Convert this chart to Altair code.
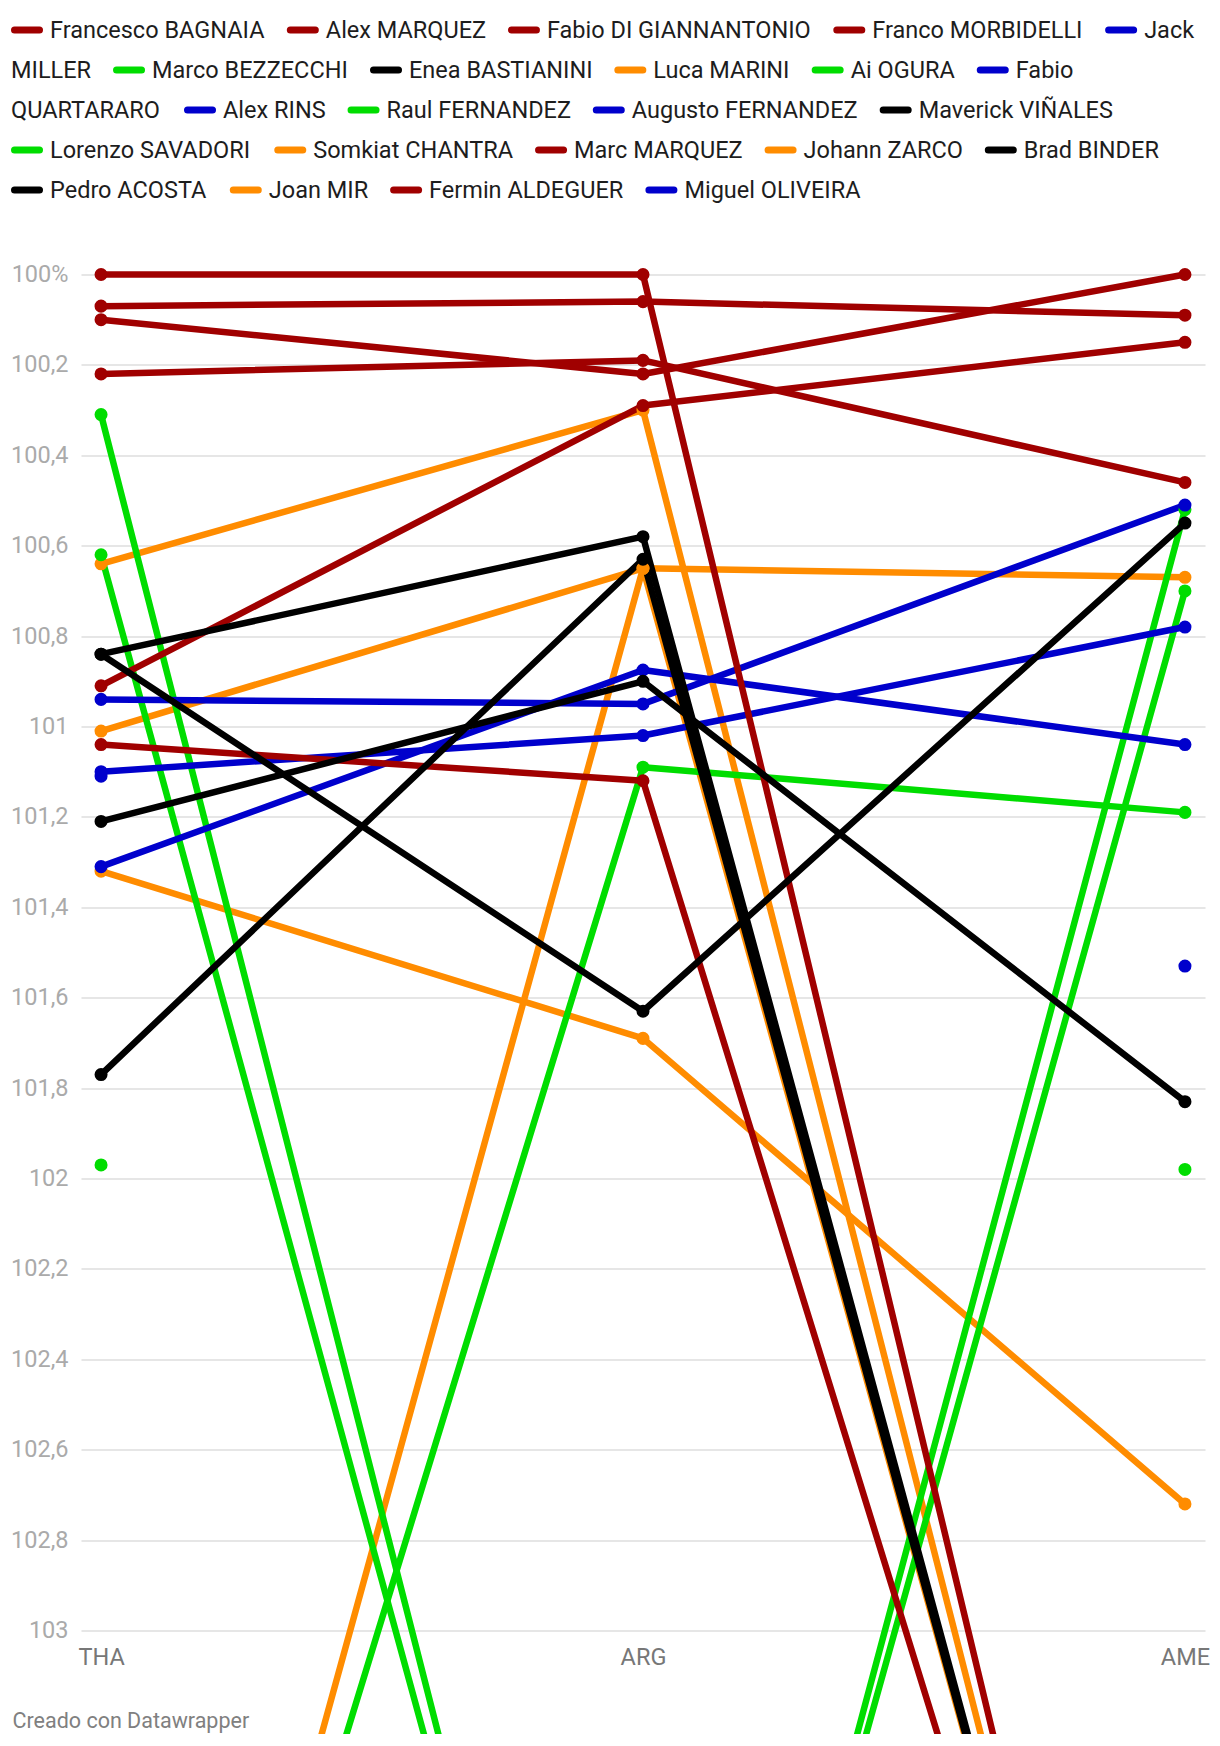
import altair as alt
import pandas as pd

# ---------------- data ----------------
RACES = ["THA", "ARG", "AME"]

RIDERS = [
    "Francesco BAGNAIA", "Alex MARQUEZ", "Fabio DI GIANNANTONIO", "Franco MORBIDELLI",
    "Jack MILLER", "Marco BEZZECCHI", "Enea BASTIANINI", "Luca MARINI", "Ai OGURA",
    "Fabio QUARTARARO", "Alex RINS", "Raul FERNANDEZ", "Augusto FERNANDEZ",
    "Maverick VIÑALES", "Lorenzo SAVADORI", "Somkiat CHANTRA", "Marc MARQUEZ",
    "Johann ZARCO", "Brad BINDER", "Pedro ACOSTA", "Joan MIR", "Fermin ALDEGUER",
    "Miguel OLIVEIRA",
]

TEAM = [
    "red", "red", "red", "red",
    "blue", "green", "black", "orange", "green",
    "blue", "blue", "green", "blue",
    "black", "green", "orange", "red",
    "orange", "black", "black", "orange", "red",
    "blue",
]

THA_VALUES = [100.10, 100.07, 100.91, 100.22, 101.10, 100.31, 101.77, 105.0, 100.62,
              100.94, 101.31, 105.0, None, 101.21, 101.97, 101.32, 100.00,
              100.64, 100.84, 100.84, 101.01, 101.04, 101.11]
ARG_VALUES = [100.22, 100.06, 100.29, 100.19, 101.02, 105.0, 100.63, 100.65, 105.0,
              100.95, 100.875, 101.09, None, 100.90, None, 101.69, 100.00,
              100.30, 101.63, 100.58, 100.65, 101.12, None]
AME_VALUES = [100.00, 100.09, 100.15, 100.46, 100.78, 100.52, 105.0, 105.0, 100.70,
              100.51, 101.04, 101.19, 101.53, 101.83, 101.98, 102.72, 105.0,
              105.0, 100.55, 105.0, 100.67, 105.0, None]

Y_TICKS = [100.0, 100.2, 100.4, 100.6, 100.8, 101.0, 101.2, 101.4, 101.6, 101.8,
           102.0, 102.2, 102.4, 102.6, 102.8, 103.0]

FOOTER = "Creado con Datawrapper"

# ---------------- styling ----------------
PALETTE = {"red": "#a00000", "blue": "#0000cc", "green": "#00dd00",
           "orange": "#ff8c00", "black": "#000000"}
DRAW_ORDER = {"orange": 0, "green": 1, "blue": 2, "red": 3, "black": 4}

PLOT_W, PLOT_H = 1124, 1356
PAD = {"left": 73, "top": 266.5, "right": 7, "bottom": 103}
ORIGIN_X = 8 + PAD["left"]   # page x of plot left edge
ORIGIN_Y = 8 + PAD["top"]    # page y of plot top edge

FONT = "Roboto"
LEG_FS = 23.5

# ---------------- long table ----------------
rows = []
for i, r in enumerate(RIDERS):
    seg = 0
    for j, vals in enumerate((THA_VALUES, ARG_VALUES, AME_VALUES)):
        v = vals[i]
        if v is None:
            seg += 1
            continue
        rows.append({"rider": r, "race": RACES[j], "idx": j, "value": v,
                     "seg": f"{r}-{seg}", "layer": DRAW_ORDER[TEAM[i]], "ri": i})
df = pd.DataFrame(rows).sort_values(["layer", "ri", "idx"]).reset_index(drop=True)

color_scale = alt.Scale(domain=RIDERS, range=[PALETTE[t] for t in TEAM])

# ---------------- flowing legend (Datawrapper-like) ----------------
EM = {
    " ": 0.248,
    "A": .652, "B": .623, "C": .651, "D": .656, "E": .568, "F": .553, "G": .681,
    "H": .713, "I": .272, "J": .552, "K": .627, "L": .538, "M": .873, "N": .713,
    "O": .688, "P": .631, "Q": .688, "R": .616, "S": .593, "T": .597, "U": .649,
    "V": .636, "W": .887, "X": .627, "Y": .601, "Z": .599, "Ñ": .713,
    "a": .544, "b": .561, "c": .523, "d": .564, "e": .530, "f": .347, "g": .561,
    "h": .551, "i": .243, "j": .239, "k": .507, "l": .243, "m": .876, "n": .552,
    "o": .570, "p": .561, "q": .568, "r": .338, "s": .515, "t": .327, "u": .551,
    "v": .484, "w": .751, "x": .496, "y": .473, "z": .496,
}


def tw(s):
    return sum(EM.get(ch, 0.56) for ch in s) * LEG_FS


LEFT, RIGHT = 11, 1208
SYM_W, SYM_GAP, ITEM_GAP, ROW0, ROW_H = 32, 7, 22, 30, 40
sym_rows, txt_rows = [], []
x, row = LEFT, 0
for name in RIDERS:
    words = name.split(" ")
    unit = SYM_W + SYM_GAP + tw(words[0])
    if x > LEFT and x + unit > RIGHT:
        row += 1
        x = LEFT
    sym_rows.append({"rider": name, "x1": x + 3.5 - ORIGIN_X,
                     "x2": x + SYM_W - 3.5 - ORIGIN_X,
                     "y": ROW0 + row * ROW_H - ORIGIN_Y})
    piece_x = x + SYM_W + SYM_GAP
    piece = words[0]
    cursor = piece_x + tw(words[0])
    for w in words[1:]:
        if cursor + tw(" ") + tw(w) > RIGHT:
            txt_rows.append({"t": piece, "x": piece_x - ORIGIN_X,
                             "y": ROW0 + row * ROW_H + 1 - ORIGIN_Y})
            row += 1
            piece_x, piece = LEFT, w
            cursor = LEFT + tw(w)
        else:
            piece += " " + w
            cursor += tw(" ") + tw(w)
    txt_rows.append({"t": piece, "x": piece_x - ORIGIN_X,
                     "y": ROW0 + row * ROW_H + 1 - ORIGIN_Y})
    x = cursor + ITEM_GAP

sym_df = pd.DataFrame(sym_rows)
txt_df = pd.DataFrame(txt_rows)

# ---------------- chart ----------------
x_enc = alt.X(
    "race:N", sort=RACES,
    scale=alt.Scale(type="point", domain=RACES, padding=0.037),
    axis=alt.Axis(
        labelAngle=0, labelFont=FONT, labelFontSize=23.5, labelColor="#777777",
        labelPadding=27, labelBaseline="middle", domain=False, ticks=False,
        tickSize=0, grid=False,
        title=FOOTER, titleX=12 - ORIGIN_X, titleY=90.5, titleAlign="left",
        titleAnchor="start", titleBaseline="middle", titleFont=FONT,
        titleFontSize=21.5, titleFontWeight="normal", titleColor="#808080",
    ),
)
y_enc = alt.Y(
    "value:Q",
    scale=alt.Scale(domain=[100, 103], reverse=True, nice=False, zero=False),
    axis=alt.Axis(
        values=Y_TICKS,
        labelExpr="datum.value == 100 ? '100%' : replace(format(datum.value, '.1~f'), '.', ',')",
        grid=True, gridColor="#e6e6e6", gridWidth=2, domain=False, ticks=False,
        tickSize=0, labelPadding=13, labelFont=FONT, labelFontSize=23.5,
        labelColor="#aaaaaa", title=None, labelOverlap=False,
    ),
)

base = alt.Chart(df)
lines = base.mark_line(strokeWidth=6.5, strokeJoin="round").encode(
    x=x_enc, y=y_enc,
    color=alt.Color("rider:N", scale=color_scale, legend=None),
    detail="seg:N",
    order=alt.Order("idx:Q"),
)
points = base.mark_circle(size=170, opacity=1).encode(
    x=x_enc, y=y_enc,
    color=alt.Color("rider:N", scale=color_scale, legend=None),
)

leg_sym = alt.Chart(sym_df).mark_rule(strokeWidth=7, strokeCap="round").encode(
    x=alt.X("x1:Q", scale=None),
    x2=alt.X2("x2:Q"),
    y=alt.Y("y:Q", scale=None),
    color=alt.Color("rider:N", scale=color_scale, legend=None),
)
leg_txt = alt.Chart(txt_df).mark_text(
    align="left", baseline="middle", font=FONT, fontSize=LEG_FS, color="#1d1d1d"
).encode(
    x=alt.X("x:Q", scale=None),
    y=alt.Y("y:Q", scale=None),
    text="t:N",
)

chart = alt.layer(lines, points, leg_sym, leg_txt).properties(
    width=PLOT_W, height=PLOT_H,
    padding=PAD,
    autosize=alt.AutoSizeParams(type="none"),
).configure(font=FONT).configure_view(strokeWidth=0)

chart.save("out.html", embed_options={"renderer": "svg", "actions": False})
